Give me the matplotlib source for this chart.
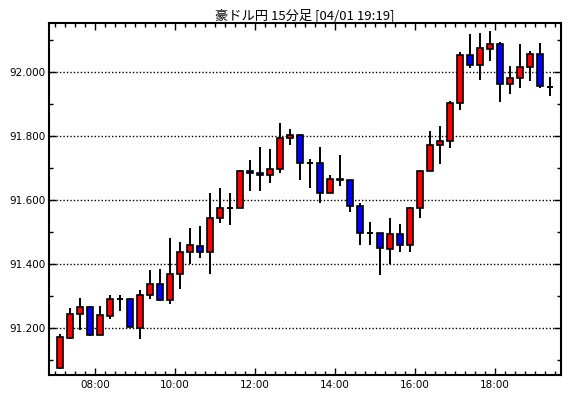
import matplotlib
matplotlib.use("Agg")
import matplotlib.pyplot as plt
from matplotlib.ticker import MultipleLocator, FuncFormatter

plt.rcParams['font.family'] = ['Noto Sans CJK JP', 'DejaVu Sans']

title = "豪ドル円 15分足 [04/01 19:19]"

# 15分足 07:00 - 19:15
opens = [91.075, 91.168, 91.241, 91.264, 91.178, 91.236, 91.289, 91.289, 91.200, 91.303,
         91.337, 91.287, 91.366, 91.436, 91.456, 91.436, 91.543, 91.575, 91.575, 91.691,
         91.684, 91.678, 91.697, 91.794, 91.803, 91.716, 91.716, 91.622, 91.666, 91.662,
         91.581, 91.497, 91.497, 91.447, 91.494, 91.459, 91.575, 91.691, 91.772, 91.784,
         91.903, 92.053, 92.022, 92.072, 92.088, 91.963, 91.981, 92.016, 92.056, 91.953]
highs = [91.181, 91.260, 91.292, 91.267, 91.267, 91.301, 91.303, 91.291, 91.317, 91.379,
         91.382, 91.479, 91.467, 91.510, 91.517, 91.620, 91.635, 91.620, 91.694, 91.723,
         91.764, 91.757, 91.839, 91.820, 91.806, 91.728, 91.764, 91.678, 91.739, 91.662,
         91.588, 91.529, 91.497, 91.542, 91.523, 91.578, 91.693, 91.816, 91.831, 91.907,
         92.063, 92.117, 92.120, 92.126, 92.094, 92.019, 92.088, 92.066, 92.089, 91.984]
lows = [91.071, 91.165, 91.193, 91.175, 91.178, 91.227, 91.252, 91.202, 91.165, 91.290,
        91.283, 91.274, 91.321, 91.399, 91.418, 91.368, 91.527, 91.521, 91.575, 91.627,
        91.627, 91.652, 91.683, 91.771, 91.661, 91.636, 91.590, 91.622, 91.643, 91.561,
        91.458, 91.458, 91.365, 91.399, 91.436, 91.436, 91.543, 91.691, 91.711, 91.761,
        91.880, 92.011, 91.974, 92.033, 91.906, 91.931, 91.949, 91.972, 91.950, 91.925]
closes = [91.172, 91.241, 91.264, 91.178, 91.239, 91.289, 91.289, 91.203, 91.303, 91.337,
          91.287, 91.369, 91.435, 91.459, 91.436, 91.544, 91.575, 91.575, 91.691, 91.684,
          91.678, 91.697, 91.794, 91.803, 91.716, 91.716, 91.622, 91.666, 91.662, 91.581,
          91.497, 91.497, 91.450, 91.494, 91.459, 91.575, 91.691, 91.772, 91.784, 91.903,
          92.053, 92.022, 92.075, 92.088, 91.963, 91.981, 92.016, 92.056, 91.956, 91.953]

# 時刻（時間単位、足の中心）
times = [7 + 0.25 * i + 0.125 for i in range(len(opens))]

fig = plt.figure(figsize=(5.7, 3.98), dpi=100)
ax = fig.add_axes([0.0865, 0.058, 0.8975, 0.884])

w = 0.25 * 0.65
ax.vlines(times, lows, highs, color='black', linewidth=1.4, zorder=2)
for t, o, c in zip(times, opens, closes):
    if abs(c - o) < 0.0015:
        ax.hlines(o, t - w / 2, t + w / 2, color='black', linewidth=1.4, zorder=3)
        continue
    col = '#ff0000' if c > o else '#0000ff'
    ax.bar(t, abs(c - o), width=w, bottom=min(o, c), color=col,
           edgecolor='black', linewidth=1.2, zorder=3)

ax.set_xlim(6.857, 19.65)
ax.set_ylim(91.052, 92.152)

ax.xaxis.set_major_locator(MultipleLocator(2))
ax.xaxis.set_minor_locator(MultipleLocator(0.25))
ax.xaxis.set_major_formatter(FuncFormatter(lambda v, p: "%02d:00" % int(round(v))))
ax.yaxis.set_major_locator(MultipleLocator(0.2))
ax.yaxis.set_minor_locator(MultipleLocator(0.1))
ax.yaxis.set_major_formatter(FuncFormatter(lambda v, p: "%.3f" % v))

ax.tick_params(which='both', direction='in', top=True, right=True, colors='black',
               labelsize=7.5, width=1)
ax.tick_params(which='major', length=5)
ax.tick_params(which='minor', length=3)
ax.tick_params(axis='y', pad=3)
for lab in ax.get_xticklabels() + ax.get_yticklabels():
    lab.set_family('DejaVu Sans')

ax.grid(axis='y', which='major', color='black', linestyle=(0, (1, 1.5)), linewidth=1)
ax.set_axisbelow(True)
for s in ax.spines.values():
    s.set_linewidth(1.5)

ax.set_title(title, fontsize=9.5, pad=3)

fig.savefig("out.png", dpi=100)
